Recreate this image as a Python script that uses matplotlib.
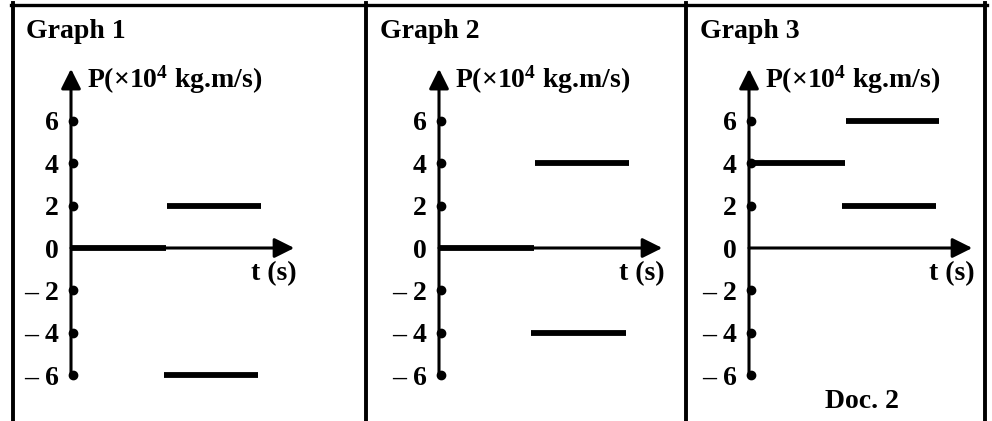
import matplotlib
matplotlib.use("Agg")
import matplotlib.pyplot as plt
from matplotlib.lines import Line2D

plt.rcParams.update({
    "font.family": ["Liberation Serif", "DejaVu Serif"],
    "font.weight": "bold",
    "mathtext.fontset": "custom",
    "mathtext.rm": "Liberation Serif:bold",
    "mathtext.it": "Liberation Serif:bold",
    "mathtext.bf": "Liberation Serif:bold",
})

# --- data: momentum P (x10^4 kg.m/s) against time t (s) ---
TITLES = ["Graph 1", "Graph 2", "Graph 3"]
TICKS = [6, 4, 2, 0, -2, -4, -6]
TICK_LABELS = ["6", "4", "2", "0", "\u2013 2", "\u2013 4", "\u2013 6"]

# each segment: start time, end time, momentum
G1_T0 = [0.0, 1.01, 0.98]
G1_T1 = [1.0, 2.0, 1.97]
G1_P = [0, 2, -6]

G2_T0 = [0.0, 1.01, 0.97]
G2_T1 = [1.0, 2.0, 1.97]
G2_P = [0, 4, -4]

G3_T0 = [0.0, 1.02, 0.98]
G3_T1 = [1.01, 2.0, 1.97]
G3_P = [4, 6, 2]

GRAPHS = [(G1_T0, G1_T1, G1_P), (G2_T0, G2_T1, G2_P), (G3_T0, G3_T1, G3_P)]

# --- layout in pixels ---
W, H = 992, 421
PANEL_X = [12.5, 366, 686, 985]       # panel borders
ORIGIN_X = [71, 439, 749]             # where each time axis starts
ORIGIN_Y = 248
PX_T = 95.0                            # pixels per second
PX_P = 21.2                            # pixels per unit of P
T_TIP = 2.35
P_TIP = 8.45

fig = plt.figure(figsize=(W / 100, H / 100), dpi=100)
fig.patch.set_facecolor("white")


def fx(px):
    return px / W


def fy(py):
    return 1 - py / H


# frame: top rule plus vertical dividers
fig.add_artist(Line2D([fx(PANEL_X[0] - 1.5), fx(PANEL_X[-1] + 1.5)], [fy(4.5), fy(4.5)],
                      color="black", lw=2.4, transform=fig.transFigure))
for xp in PANEL_X:
    fig.add_artist(Line2D([fx(xp), fx(xp)], [fy(3), fy(H + 2)],
                          color="black", lw=2.8, transform=fig.transFigure))

arrow = dict(arrowstyle="-|>,head_length=0.6,head_width=0.3", mutation_scale=20,
             color="black", lw=2.2, shrinkA=0, shrinkB=0)

for i, (t0s, t1s, ps) in enumerate(GRAPHS):
    left, right = PANEL_X[i], PANEL_X[i + 1]
    ax = fig.add_axes([fx(left), 0, fx(right - left), 1])
    ax.set_xlim(-(ORIGIN_X[i] - left) / PX_T, (right - ORIGIN_X[i]) / PX_T)
    ax.set_ylim(-(H - ORIGIN_Y) / PX_P, ORIGIN_Y / PX_P)
    ax.axis("off")

    # axes with arrowheads
    ax.annotate("", xy=(0, P_TIP), xytext=(0, -6), arrowprops=arrow)
    ax.annotate("", xy=(T_TIP, 0), xytext=(0, 0), arrowprops=arrow)

    # tick dots and labels
    for v, lab in zip(TICKS, TICK_LABELS):
        if v != 0:
            ax.plot(0.025, v, "o", color="black", ms=6, zorder=4)
        ax.annotate(lab, xy=(0, v), xytext=(-9, 0), textcoords="offset points",
                    ha="right", va="center_baseline", fontsize=20, fontweight="bold")

    # momentum segments
    for t0, t1, p in zip(t0s, t1s, ps):
        ax.plot([t0, t1], [p, p], color="black", lw=4.2, solid_capstyle="butt", zorder=3)

    ax.text(0.17, 7.55, r"P(×10$^{\mathrm{4}}$ kg.m/s)", ha="left", va="baseline",
            fontsize=20, fontweight="bold")
    ax.text(T_TIP + 0.02, -1.5, "t (s)", ha="right", va="baseline",
            fontsize=20, fontweight="bold")

    fig.text(fx(left + 14), fy(38), TITLES[i], ha="left", va="baseline",
             fontsize=20, fontweight="bold")

fig.text(fx(862), fy(408), "Doc. 2", ha="center", va="baseline",
         fontsize=20, fontweight="bold")

fig.savefig("out.png", dpi=100, facecolor="white")
